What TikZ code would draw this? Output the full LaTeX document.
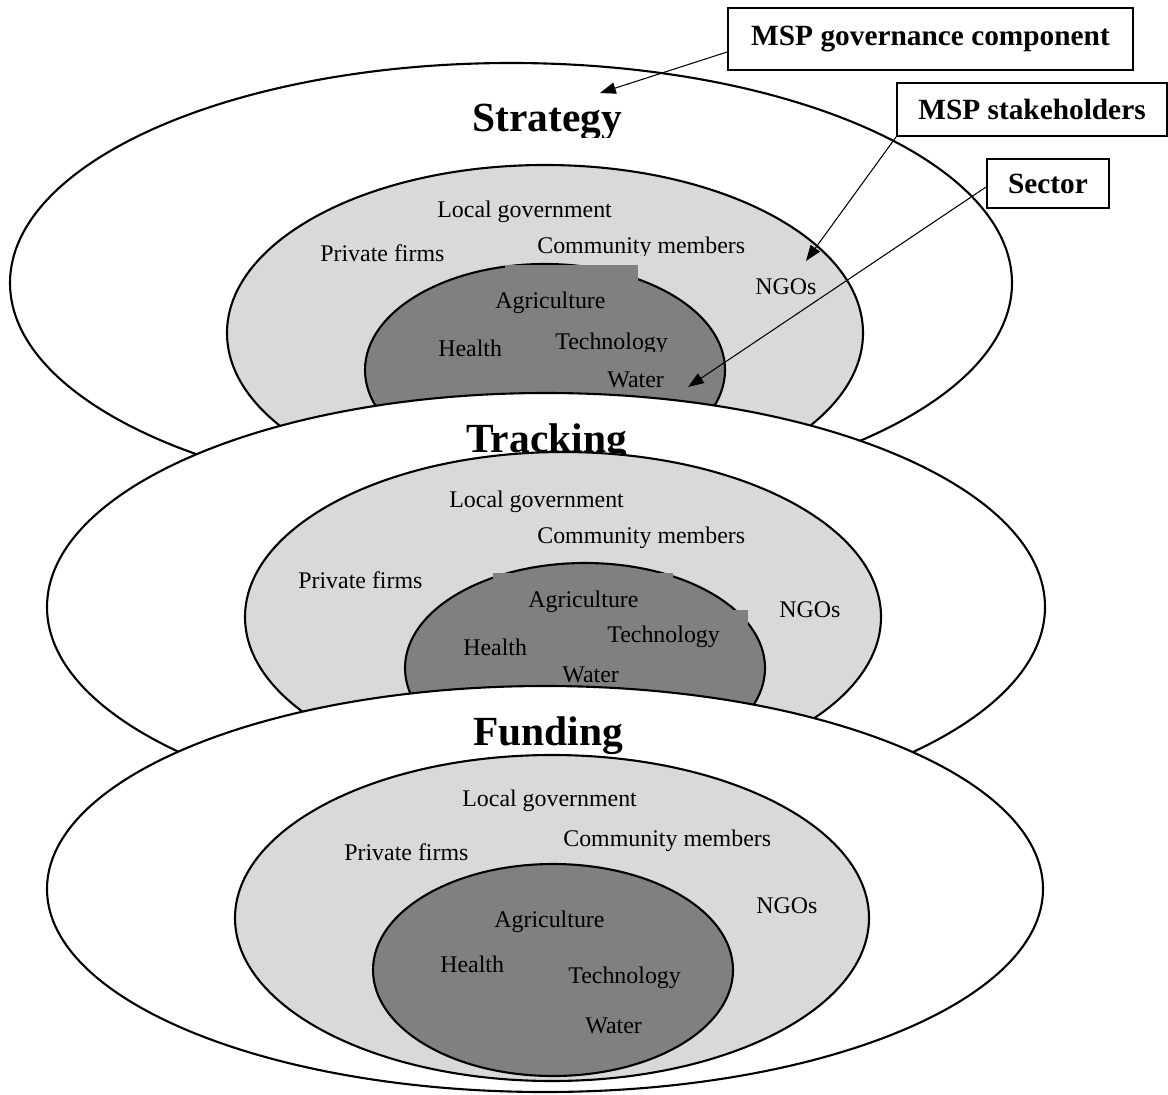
\documentclass[tikz,border=0pt]{standalone}
\usepackage{fontspec}
\setmainfont{Liberation Serif}
\usetikzlibrary{arrows.meta}
\definecolor{lgray}{HTML}{D9D9D9}
\definecolor{dgray}{HTML}{808080}
\begin{document}
\begin{tikzpicture}[x=0.02cm,y=-0.02cm,
  ring/.style={draw=black,line width=1.2pt},
  lbl/.style={anchor=base west,inner sep=0pt,font=\fontsize{13.6}{16}\selectfont},
  ttl/.style={anchor=base west,inner sep=0pt,font=\fontsize{23.6}{28}\selectfont\bfseries},
  callout/.style={draw=black,line width=1.1pt,fill=white,inner sep=0pt,font=\fontsize{16.7}{20}\selectfont\bfseries},
  pointer/.style={line width=0.6pt,-{Triangle[length=9pt,width=6.5pt]}}]
\useasboundingbox (0,0) rectangle (1168,1094);

% ---------------- Strategy ----------------
\filldraw[ring,fill=white] (511,283) ellipse [x radius=501, y radius=220];
\begin{scope}
  \clip (400,80) rectangle (720,138);
  \node[ttl] (tStrategy) at (472,132) {Strategy};
\end{scope}
\filldraw[ring,fill=lgray] (545,333) ellipse [x radius=318, y radius=168];
\node[lbl] (sLocal) at (437,218) {Local government};
\node[lbl] (sPriv) at (320,262) {Private firms};
\begin{scope}
  \clip (520,220) rectangle (780,256);
  \node[lbl] (sComm) at (537,254) {Community members};
\end{scope}
\node[lbl] (sNGO) at (755,295) {NGOs};
\filldraw[ring,fill=dgray] (545,370) ellipse [x radius=180, y radius=106];
\fill[dgray] (505,265) rectangle (638,292);
\node[lbl] (sAgri) at (495,309) {Agriculture};
\node[lbl] (sHealth) at (438,357) {Health};
\begin{scope}
  \clip (540,320) rectangle (700,352);
  \node[lbl] (sTech) at (555,350) {Technology};
\end{scope}
\node[lbl] (sWater) at (607,387) {Water};

% ---------------- Tracking ----------------
\filldraw[ring,fill=white] (546,607) ellipse [x radius=499, y radius=214];
\node[ttl] (tTracking) at (466,452) {Tracking};
\filldraw[ring,fill=lgray] (563,617) ellipse [x radius=318, y radius=165];
\node[lbl] (kLocal) at (449,507) {Local government};
\node[lbl] (kComm) at (537,543) {Community members};
\node[lbl] (kPriv) at (298,588) {Private firms};
\node[lbl] (kNGO) at (779,617) {NGOs};
\filldraw[ring,fill=dgray] (585,668) ellipse [x radius=180, y radius=105];
\fill[dgray] (493,573) rectangle (673,600);
\fill[dgray] (700,610) rectangle (748,640);
\node[lbl] (kAgri) at (528,607) {Agriculture};
\node[lbl] (kTech) at (607,642) {Technology};
\node[lbl] (kHealth) at (463,655) {Health};
\node[lbl] (kWater) at (562,682) {Water};

% ---------------- Funding ----------------
\filldraw[ring,fill=white] (545,889) ellipse [x radius=498, y radius=203];
\filldraw[ring,fill=lgray] (552,918) ellipse [x radius=317, y radius=163];
\node[ttl] (tFunding) at (473,745) {Funding};
\node[lbl] (fLocal) at (462,806) {Local government};
\node[lbl] (fComm) at (563,846) {Community members};
\node[lbl] (fPriv) at (344,860) {Private firms};
\node[lbl] (fNGO) at (756,913) {NGOs};
\filldraw[ring,fill=dgray] (553,970) ellipse [x radius=180, y radius=106];
\node[lbl] (fAgri) at (494,927) {Agriculture};
\node[lbl] (fHealth) at (440,972) {Health};
\node[lbl] (fTech) at (568,983) {Technology};
\node[lbl] (fWater) at (585,1033) {Water};

% ---------------- Call-outs ----------------
\node[callout,minimum width=8.1cm,minimum height=1.24cm] (gov) at (930.5,39) {MSP governance component};
\node[callout,minimum width=5.4cm,minimum height=1.06cm] (stake) at (1032,109.5) {MSP stakeholders};
\node[callout,minimum width=2.44cm,minimum height=0.98cm] (sect) at (1048,183.5) {Sector};

\coordinate (govtip) at (600,93);
\coordinate (stktip) at (806,261);
\coordinate (sectip) at (688,387);
\draw[pointer] ([yshift=-7.4pt]gov.west) -- (govtip);
\draw[pointer] (stake.south west) -- (stktip);
\draw[pointer] ([yshift=-2pt]sect.west) -- (sectip);
\end{tikzpicture}
\end{document}
